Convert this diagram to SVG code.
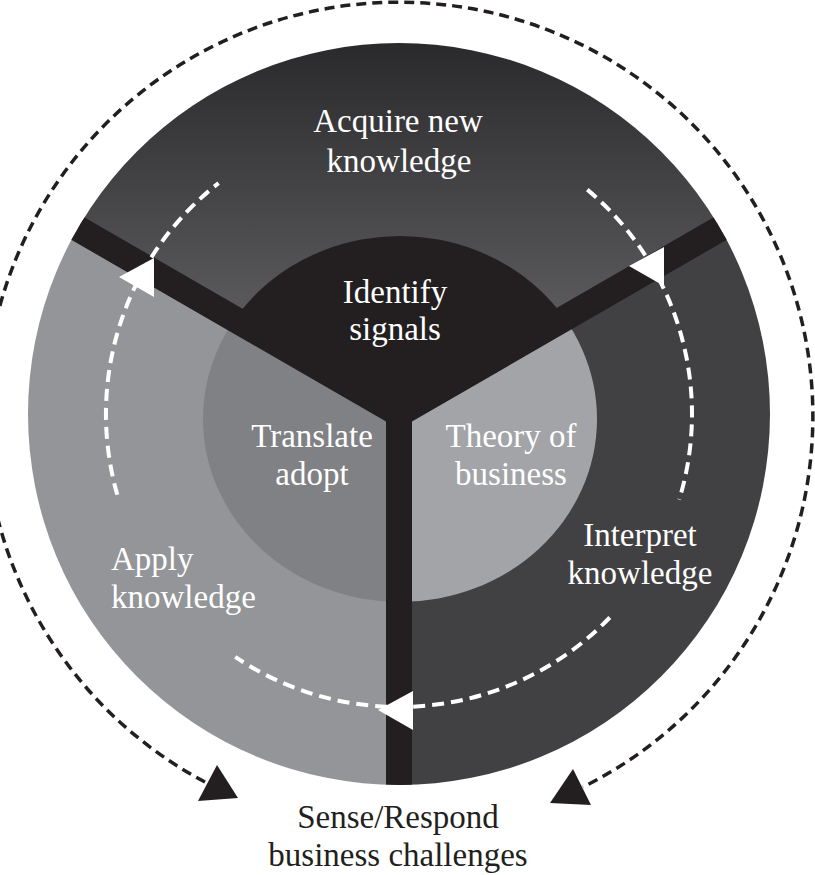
<svg xmlns="http://www.w3.org/2000/svg" width="815" height="875" viewBox="0 0 815 875">
<style>
  .lbl { font-family: "Liberation Serif", "Times New Roman", serif; font-size: 33px; fill: #ffffff; text-anchor: middle; }
  .lbl-dark { font-family: "Liberation Serif", "Times New Roman", serif; font-size: 33px; fill: #231f20; text-anchor: middle; }
  .bar { fill: #231f20; }
  .wdash { fill: none; stroke: #ffffff; stroke-width: 4; stroke-dasharray: 12 7; }
  .kdash { fill: none; stroke: #231f20; stroke-width: 3.5; stroke-dasharray: 10 6; }
  .warrow { fill: #ffffff; }
  .karrow { fill: #231f20; }
</style>
<defs>
  <linearGradient id="topGrad" gradientUnits="userSpaceOnUse" x1="0" y1="44" x2="0" y2="300">
    <stop offset="0" stop-color="#2a292b"/>
    <stop offset="1" stop-color="#58585b"/>
  </linearGradient>
  <clipPath id="clipOuter"><circle cx="399" cy="414" r="371"/></clipPath>
  <clipPath id="clipInner"><ellipse cx="400" cy="419" rx="197" ry="183"/></clipPath>
  <path id="wArrow" d="M0 0 L35 -19 L35 20 Z"/>
</defs>

<g id="acquire">
  <path d="M399 414 L-467 -86 L-467 -600 L1265 -600 L1265 -86 Z" fill="url(#topGrad)" clip-path="url(#clipOuter)"/>
  <text class="lbl" x="398" y="132">Acquire new</text>
  <text class="lbl" x="399" y="172">knowledge</text>
</g>
<g id="interpret">
  <path d="M399 414 L1265 -86 L1265 1400 L399 1400 Z" fill="#414042" clip-path="url(#clipOuter)"/>
</g>
<g id="apply">
  <path d="M399 414 L399 1400 L-467 1400 L-467 -86 Z" fill="#939598" clip-path="url(#clipOuter)"/>
</g>
<g id="identify">
  <path d="M399 414 L-467 -86 L-467 -600 L1265 -600 L1265 -86 Z" fill="#231f20" clip-path="url(#clipInner)"/>
  <text class="lbl" x="395" y="303">Identify</text>
  <text class="lbl" x="395" y="340">signals</text>
</g>
<g id="theory">
  <path d="M399 414 L1265 -86 L1265 1400 L399 1400 Z" fill="#a3a4a7" clip-path="url(#clipInner)"/>
  <text class="lbl" x="511" y="447">Theory of</text>
  <text class="lbl" x="511" y="485">business</text>
</g>
<g id="translate">
  <path d="M399 414 L399 1400 L-467 1400 L-467 -86 Z" fill="#808185" clip-path="url(#clipInner)"/>
  <text class="lbl" x="312" y="447">Translate</text>
  <text class="lbl" x="312" y="485">adopt</text>
</g>

<g id="dividers">
  <path class="bar" clip-path="url(#clipOuter)" d="M399 399 L788.7 174 L801.7 196.5 L412 421.5 L412 900 L386 900 L386 421.5 L-3.7 196.5 L9.3 174 Z"/>
</g>

<g id="labels-outer">
  <text class="lbl" x="640" y="546">Interpret</text>
  <text class="lbl" x="640" y="584">knowledge</text>
  <text class="lbl" x="111" y="570" style="text-anchor:start">Apply</text>
  <text class="lbl" x="111" y="608" style="text-anchor:start">knowledge</text>
</g>

<g id="connectors">
  <path class="wdash" d="M117.3 494.8 A293 293 0 0 1 218.6 183.1"/>
  <path class="wdash" d="M587.3 189.6 A293 293 0 0 1 679.2 499.7"/>
  <path class="wdash" d="M609.8 617.5 A293 293 0 0 1 235.2 656.9"/>
  <use href="#wArrow" class="warrow" x="119" y="277"/>
  <use href="#wArrow" class="warrow" x="629" y="266"/>
  <use href="#wArrow" class="warrow" x="378" y="710"/>
  <path class="kdash" d="M205 782 A414 414 0 1 1 583 787"/>
  <polygon class="karrow" points="198,801 217,765 238,798"/>
  <polygon class="karrow" points="550,803 573,769 591,805"/>
</g>

<g id="sense">
  <text class="lbl-dark" x="398" y="828">Sense/Respond</text>
  <text class="lbl-dark" x="398" y="866">business challenges</text>
</g>
</svg>
